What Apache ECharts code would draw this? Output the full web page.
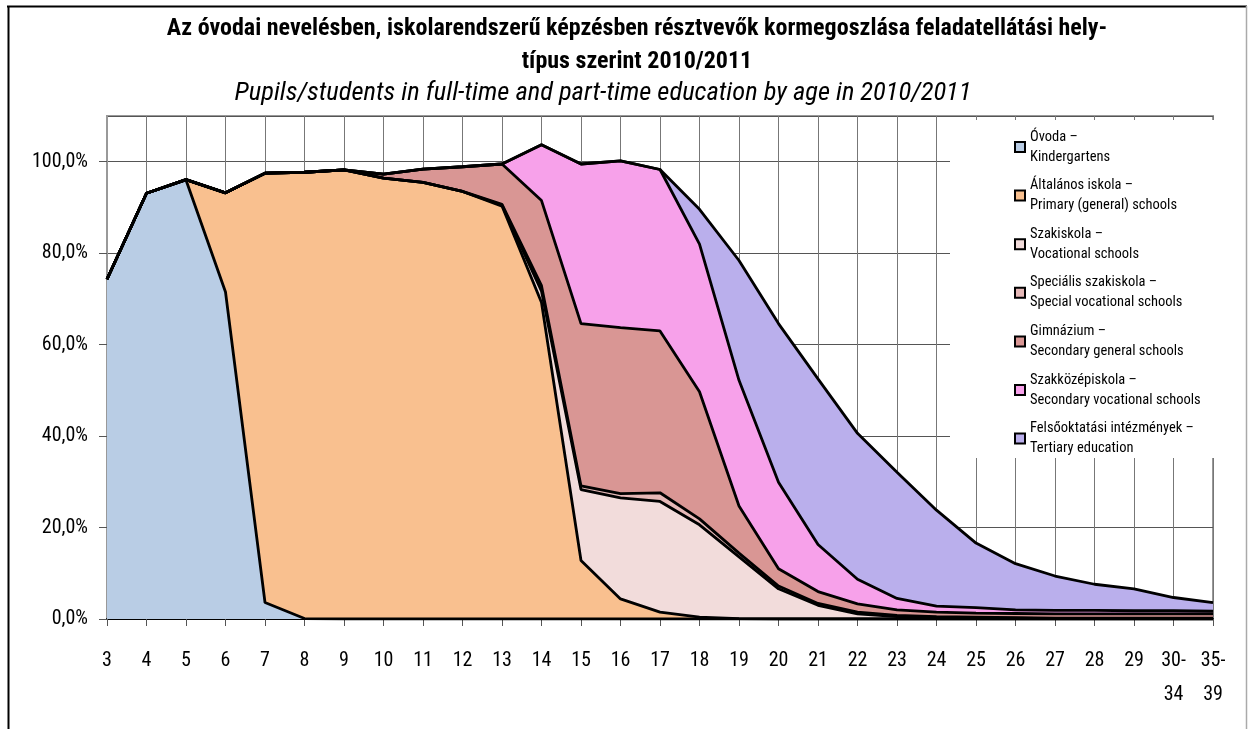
<!DOCTYPE html>
<html>
<head>
<meta charset="utf-8">
<script src="https://cdn.jsdelivr.net/npm/echarts@6/dist/echarts.min.js"></script>
<style>
  html, body { margin: 0; padding: 0; background: #fff; }
  #chart { width: 1253px; height: 729px; }
</style>
</head>
<body>
<div id="chart"></div>
<script>
const FONT = '"Roboto Condensed", "Liberation Sans Narrow", sans-serif';

const ages = ['3', '4', '5', '6', '7', '8', '9', '10', '11', '12', '13', '14', '15', '16', '17', '18', '19', '20',
  '21', '22', '23', '24', '25', '26', '27', '28', '29', '30-\n34', '35-\n39'];

const ovoda = [74.3, 93.1, 96.0, 71.5, 3.6, 0.1, 0, 0, 0, 0, 0, 0, 0, 0, 0, 0, 0, 0, 0, 0, 0, 0, 0, 0, 0, 0, 0, 0, 0];
const altalanos = [0, 0, 0.1, 21.7, 93.9, 97.6, 98.2, 96.4, 95.5, 93.5, 90.3, 69.2, 12.8, 4.4, 1.5, 0.4, 0.1, 0, 0, 0, 0, 0, 0, 0, 0, 0, 0, 0, 0];
const szakiskola = [0, 0, 0, 0, 0, 0, 0, 0, 0, 0, 0.2, 2.5, 15.5, 22.1, 24.2, 20.2, 13.5, 6.6, 3.0, 1.1, 0.5, 0.3, 0.2, 0.2, 0.1, 0.1, 0.1, 0.1, 0.1];
const specialis = [0, 0, 0, 0, 0, 0, 0, 0, 0, 0, 0.2, 1.2, 0.8, 0.9, 1.9, 1.3, 0.8, 0.6, 0.4, 0.4, 0.3, 0.2, 0.2, 0.1, 0.1, 0.1, 0.1, 0.1, 0.1];
const gimnazium = [0, 0, 0, 0, 0, 0, 0, 0.9, 2.9, 5.4, 8.8, 18.6, 35.5, 36.3, 35.4, 27.8, 10.3, 3.8, 2.6, 1.8, 1.2, 1.0, 0.9, 0.9, 0.9, 0.9, 0.9, 0.9, 0.9];
const szakkozep = [0, 0, 0, 0, 0, 0, 0, 0, 0, 0, 0, 12.2, 34.9, 36.5, 35.3, 32.3, 27.5, 18.9, 10.3, 5.4, 2.5, 1.3, 1.2, 0.8, 0.8, 0.8, 0.7, 0.7, 0.6];
const felso = [0, 0, 0, 0, 0, 0, 0, 0, 0, 0, 0, 0, 0, 0, 0, 7.6, 26.2, 34.7, 36.2, 31.9, 27.6, 21.0, 14.1, 10.1, 7.5, 5.7, 4.8, 2.9, 1.9];

const seriesNames = [
  'Óvoda –\nKindergartens',
  'Általános iskola –\nPrimary (general) schools',
  'Szakiskola –\nVocational schools',
  'Speciális szakiskola –\nSpecial vocational schools',
  'Gimnázium –\nSecondary general schools',
  'Szakközépiskola –\nSecondary vocational schools',
  'Felsőoktatási intézmények –\nTertiary education'
];
const seriesData = [ovoda, altalanos, szakiskola, specialis, gimnazium, szakkozep, felso];
const colors = ['#B9CDE5', '#F9C08F', '#F2DCDB', '#E6B9B8', '#D99694', '#F7A1EA', '#BAAFEC'];

const chart = echarts.init(document.getElementById('chart'));

const option = {
  animation: false,
  title: [
    {
      text: 'Az óvodai nevelésben, iskolarendszerű képzésben résztvevők kormegoszlása feladatellátási hely-\ntípus szerint 2010/2011',
      left: 637,
      top: 12,
      textAlign: 'center',
      padding: 0,
      textStyle: { fontFamily: FONT, fontSize: 24, fontWeight: 'bold', color: '#000', lineHeight: 33 }
    },
    {
      text: 'Pupils/students in full-time and part-time education by age in 2010/2011',
      left: 603,
      top: 80,
      textAlign: 'center',
      padding: 0,
      textStyle: { fontFamily: FONT, fontSize: 26.5, fontWeight: 'normal', fontStyle: 'italic', color: '#000', lineHeight: 27 }
    }
  ],
  grid: {
    left: 107,
    right: 40,
    top: 116,
    bottom: 110,
    show: true,
    borderColor: '#999',
    borderWidth: 2
  },
  legend: {
    data: seriesNames,
    orient: 'vertical',
    left: 1014,
    top: 117,
    padding: 0,
    itemGap: -11.4,
    icon: 'rect',
    itemWidth: 10,
    itemHeight: 10,
    itemStyle: { borderColor: '#000', borderWidth: 2 },
    textStyle: { fontFamily: FONT, fontSize: 14.5, color: '#000', lineHeight: 20, padding: [20, 0, 0, 0] }
  },
  graphic: [
    { type: 'rect', z: 1, shape: { x: 950, y: 120, width: 266, height: 338 }, style: { fill: '#fff' } },
    { type: 'line', z: 10, shape: { x1: 7, y1: 6.5, x2: 1247, y2: 6.5 }, style: { stroke: '#000', lineWidth: 2 } },
    { type: 'line', z: 10, shape: { x1: 8.5, y1: 6, x2: 8.5, y2: 729 }, style: { stroke: '#000', lineWidth: 2 } },
    { type: 'line', z: 10, shape: { x1: 1246.5, y1: 6, x2: 1246.5, y2: 729 }, style: { stroke: '#aaa', lineWidth: 1.5 } }
  ],
  xAxis: {
    type: 'category',
    data: ages,
    boundaryGap: false,
    axisLine: { lineStyle: { color: '#000', width: 2 } },
    axisTick: { show: true, length: 7, lineStyle: { color: '#555' }, interval: 0 },
    axisLabel: { interval: 0, margin: 25, fontFamily: FONT, fontSize: 20, color: '#000', lineHeight: 34 },
    splitLine: { show: true, interval: 0, lineStyle: { color: '#777', width: 1 } }
  },
  yAxis: {
    type: 'value',
    min: 0,
    max: 110,
    interval: 20,
    axisLine: { show: true, lineStyle: { color: '#999', width: 2 } },
    axisTick: { show: true, length: 8, lineStyle: { color: '#555' } },
    axisLabel: {
      margin: 19,
      showMaxLabel: false,
      fontFamily: FONT,
      fontSize: 20,
      color: '#000',
      formatter: v => (v > 100 ? '' : v.toFixed(1).replace('.', ',') + '%')
    },
    splitLine: { show: true, lineStyle: { color: '#555', width: 1 } }
  },
  series: seriesNames.map((name, i) => ({
    name: name,
    type: 'line',
    stack: 'total',
    data: seriesData[i],
    symbol: 'none',
    color: colors[i],
    lineStyle: { color: '#000', width: 2.8 },
    areaStyle: { color: colors[i], opacity: 1 },
    z: 2
  }))
};

chart.setOption(option);
</script>
</body>
</html>
